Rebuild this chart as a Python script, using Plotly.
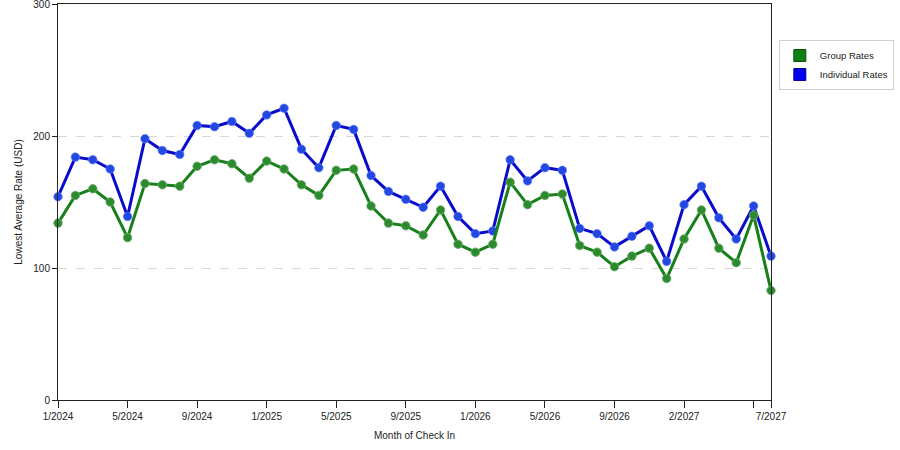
import plotly.graph_objects as go

months = ['1/2024', '2/2024', '3/2024', '4/2024', '5/2024', '6/2024', '7/2024', '8/2024',
          '9/2024', '10/2024', '11/2024', '12/2024', '1/2025', '2/2025', '3/2025', '4/2025',
          '5/2025', '6/2025', '7/2025', '8/2025', '9/2025', '10/2025', '11/2025', '12/2025',
          '1/2026', '2/2026', '3/2026', '4/2026', '5/2026', '6/2026', '7/2026', '8/2026',
          '9/2026', '10/2026', '11/2026', '12/2026', '2/2027', '3/2027', '4/2027', '5/2027',
          '6/2027', '7/2027']

group_rates = [134, 155, 160, 150, 123, 164, 163, 162, 177, 182, 179, 168, 181, 175, 163, 155,
               174, 175, 147, 134, 132, 125, 144, 118, 112, 118, 165, 148, 155, 156, 117, 112,
               101, 109, 115, 92, 122, 144, 115, 104, 140, 83]

individual_rates = [154, 184, 182, 175, 139, 198, 189, 186, 208, 207, 211, 202, 216, 221, 190, 176,
                    208, 205, 170, 158, 152, 146, 162, 139, 126, 128, 182, 166, 176, 174, 130, 126,
                    116, 124, 132, 105, 148, 162, 138, 122, 147, 109]

tick_months = ['1/2024', '5/2024', '9/2024', '1/2025', '5/2025', '9/2025', '1/2026', '5/2026',
               '9/2026', '2/2027', '6/2027', '7/2027']
tick_labels = ['1/2024', '5/2024', '9/2024', '1/2025', '5/2025', '9/2025', '1/2026', '5/2026',
               '9/2026', '2/2027', '', '7/2027']

green = '#17801a'
blue = '#0b0bcc'

fig = go.Figure()

fig.add_trace(go.Scatter(
    x=months, y=individual_rates, mode='lines+markers', name='Individual Rates',
    line=dict(color=blue, width=3),
    marker=dict(size=8.5, color='#2347e0', line=dict(color='rgba(90,130,255,0.7)', width=1)),
    cliponaxis=False, showlegend=False))

fig.add_trace(go.Scatter(
    x=months, y=group_rates, mode='lines+markers', name='Group Rates',
    line=dict(color=green, width=3),
    marker=dict(size=8.5, color='#2e8a2e', line=dict(color='rgba(110,175,110,0.8)', width=1)),
    cliponaxis=False, showlegend=False))

# legend swatches
fig.add_trace(go.Scatter(
    x=[None], y=[None], mode='markers', name='Group Rates',
    marker=dict(symbol='square', size=12, color='#0f7f0f', line=dict(color='#0a4d0a', width=1))))
fig.add_trace(go.Scatter(
    x=[None], y=[None], mode='markers', name='Individual Rates',
    marker=dict(symbol='square', size=12, color='#0000ee', line=dict(color='#00008a', width=1))))

fig.update_layout(
    width=900, height=450,
    margin=dict(l=58, r=129, t=4, b=50),
    paper_bgcolor='white', plot_bgcolor='white',
    font=dict(family='Liberation Sans, Arial, sans-serif', size=10, color='#222'),
    legend=dict(x=1.011, y=0.909, xanchor='left', yanchor='top',
                bordercolor='#d0d0d0', borderwidth=1, bgcolor='white',
                font=dict(size=9.5), tracegroupgap=0, itemwidth=30),
    xaxis=dict(
        type='category', categoryorder='array', categoryarray=months,
        range=[0, len(months) - 1], automargin=False,
        tickmode='array', tickvals=tick_months, ticktext=tick_labels,
        ticks='outside', ticklen=7, tickcolor='#222',
        showline=True, linecolor='#222', linewidth=1, mirror=True,
        showgrid=False, zeroline=False,
        title=dict(text='Month of Check In', standoff=10, font=dict(size=10)),
    ),
    yaxis=dict(
        range=[0, 300], tickvals=[0, 100, 200, 300], automargin=False,
        ticklabeloverflow='allow',
        ticks='outside', ticklen=5, tickcolor='#222',
        showline=True, linecolor='#222', linewidth=1, mirror=True,
        showgrid=True, gridcolor='#d8d8d8', griddash='dash', gridwidth=1,
        zeroline=False,
        title=dict(text='Lowest Average Rate (USD)', standoff=8, font=dict(size=10)),
    ),
)

fig.write_html('out.html', config={'displayModeBar': False},
               post_script="document.body.style.margin='0';")
